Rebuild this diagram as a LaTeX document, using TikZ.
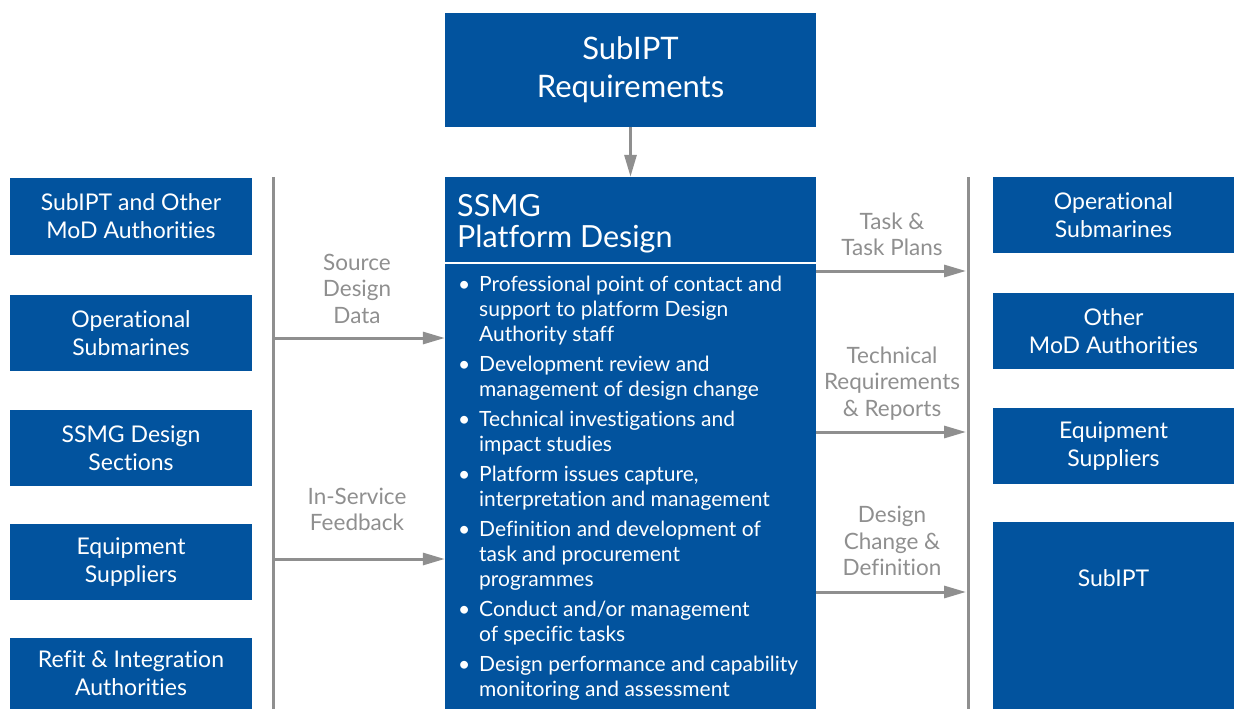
\documentclass[tikz,border=0pt]{standalone}
\usepackage{fontspec}
\setmainfont{Lato}[Ligatures=NoCommon]
\usetikzlibrary{arrows.meta}
\definecolor{ssblue}{HTML}{02539E}
\definecolor{ssgray}{HTML}{8F8F8F}
\begin{document}
\begin{tikzpicture}[x=1pt,y=-1pt,
  box/.style={fill=ssblue, text=white, inner sep=0pt, align=center, font=\fontsize{23}{28}\selectfont},
  lbox/.style={box, minimum width=242pt},
  rbox/.style={box, minimum width=241pt},
  lab/.style={text=ssgray, inner sep=0pt, anchor=north, font=\fontsize{22.5}{26.5}\selectfont},
  conn/.style={draw=ssgray, line width=3pt, -{Triangle[length=22pt,width=12pt]}},
  rail/.style={draw=ssgray, line width=3pt}]
\useasboundingbox (0,0) rectangle (1234,709);
% top box
\node[box, minimum width=371pt, minimum height=114pt, font=\fontsize{31}{38}\selectfont] (req) at (630.5,70) {SubIPT\\Requirements};
% centre box
\node[box, minimum width=371pt, minimum height=85pt] (hdr) at (630.5,219.5) {};
\node[box, minimum width=371pt, minimum height=445pt, anchor=north] (body) at (630.5,264) {};
\node[text=white, inner sep=0pt, anchor=north west, font=\fontsize{30.5}{30}\selectfont] (hdrtext) at (457,194)
  {\begin{tabular}{@{}l@{}}SSMG\\Platform Design\end{tabular}};
\node[text=white, inner sep=0pt, anchor=north west, font=\fontsize{21}{25}\selectfont] (list) at (458,273.5)
  {\begin{tabular}{@{}p{21pt}@{}l@{}}
  • & Professional point of contact and\\
    & support to platform Design\\
    & Authority staff\\[5pt]
  • & Development review and\\
    & management of design change\\[5pt]
  • & Technical investigations and\\
    & impact studies\\[5pt]
  • & Platform issues capture,\\
    & interpretation and management\\[5pt]
  • & Definition and development of\\
    & task and procurement\\
    & programmes\\[5pt]
  • & Conduct and/or management\\
    & of specific tasks\\[5pt]
  • & Design performance and capability\\
    & monitoring and assessment
  \end{tabular}};
% left boxes
\node[lbox, minimum height=77pt] (L1) at (131,216.5) {SubIPT and Other\\MoD Authorities};
\node[lbox, minimum height=76pt] (L2) at (131,333) {Operational\\Submarines};
\node[lbox, minimum height=76pt] (L3) at (131,448) {SSMG Design\\Sections};
\node[lbox, minimum height=76pt] (L4) at (131,562) {Equipment\\Suppliers};
\node[lbox, minimum height=71pt] (L5) at (131,673.5) {Refit \& Integration\\Authorities};
% right boxes
\node[rbox, minimum height=76pt] (R1) at (1113.5,215) {Operational\\Submarines};
\node[rbox, minimum height=76pt] (R2) at (1113.5,331) {Other\\MoD Authorities};
\node[rbox, minimum height=76pt] (R3) at (1113.5,446) {Equipment\\Suppliers};
\node[rbox, minimum height=187pt, anchor=north] (R4) at (1113.5,522) {};
\node[text=white, inner sep=0pt, anchor=base, font=\fontsize{23}{28}\selectfont] (R4text) at (1113.5,586) {SubIPT};
% rails
\coordinate (lt) at (273,177);
\coordinate (lb) at (273,709);
\coordinate (rt) at (968,177);
\coordinate (rb) at (968,709);
\draw[rail] (lt) -- (lb);
\draw[rail] (rt) -- (rb);
% connectors
\draw[conn] (req.south) -- (hdr.north);
\coordinate (ls1) at (273,338);
\coordinate (ls2) at (273,559);
\draw[conn] (ls1) -- (ls1 -| body.west);
\draw[conn] (ls2) -- (ls2 -| body.west);
\coordinate (rs1) at (966,271);
\coordinate (rs2) at (966,432);
\coordinate (rs3) at (966,592);
\draw[conn] (rs1 -| body.east) -- (rs1);
\draw[conn] (rs2 -| body.east) -- (rs2);
\draw[conn] (rs3 -| body.east) -- (rs3);
% labels
\node[lab] (lab1) at (357,251.5) {\begin{tabular}{@{}c@{}}Source\\Design\\Data\end{tabular}};
\node[lab] (lab2) at (357,485.5) {\begin{tabular}{@{}c@{}}In-Service\\Feedback\end{tabular}};
\node[lab] (lab3) at (892,210.5) {\begin{tabular}{@{}c@{}}Task \&\\Task Plans\end{tabular}};
\node[lab] (lab4) at (892,344.5) {\begin{tabular}{@{}c@{}}Technical\\Requirements\\\& Reports\end{tabular}};
\node[lab] (lab5) at (892,504) {\begin{tabular}{@{}c@{}}Design\\Change \&\\Definition\end{tabular}};
\end{tikzpicture}
\end{document}
